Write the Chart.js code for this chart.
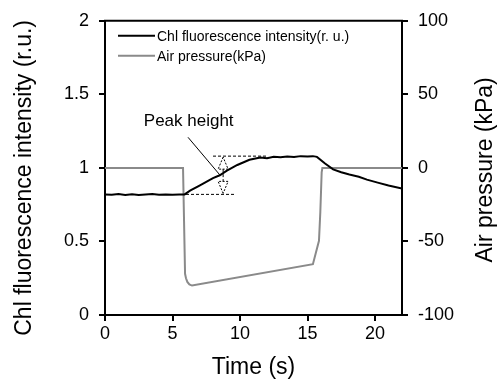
<!DOCTYPE html>
<html>
<head>
<meta charset="utf-8">
<script src="https://cdn.jsdelivr.net/npm/chart.js@4/dist/chart.umd.min.js"></script>
<style>
html,body{margin:0;padding:0;background:#fff;}
#wrap{width:499px;height:383px;position:relative;}
</style>
</head>
<body>
<div id="wrap"><canvas id="c" width="499" height="383"></canvas></div>
<script>
// ---- data ----
const chlTime   = [0, 0.5, 1, 1.5, 2, 2.5, 3, 3.5, 4, 4.5, 5, 5.5, 5.9, 6.3, 7, 7.5, 8, 8.5, 9, 9.8, 10.7, 11.5, 12, 12.5, 13, 13.5, 14, 14.5, 15, 15.4, 15.7, 16.3, 16.9, 17.5, 18.1, 18.8, 19.4, 20.2, 21, 22];
const chlValues = [0.82, 0.818, 0.822, 0.816, 0.82, 0.815, 0.819, 0.822, 0.817, 0.82, 0.818, 0.82, 0.82, 0.845, 0.88, 0.905, 0.93, 0.95, 0.98, 1.02, 1.055, 1.07, 1.065, 1.075, 1.072, 1.078, 1.074, 1.08, 1.078, 1.08, 1.075, 1.03, 0.99, 0.97, 0.955, 0.94, 0.92, 0.90, 0.88, 0.86];

const pressTime   = [0, 5.78, 5.93, 6.0, 6.1, 6.25, 6.45, 15.4, 15.85, 15.95, 16.05, 16.1, 22];
const pressValues = [0, 0, -72, -75, -77.5, -79.2, -80, -65.5, -49.6, -30, -3, 0, 0];

const seriesLabels = ['Chl fluorescence intensity(r. u.)', 'Air pressure(kPa)'];
const xTitle = 'Time (s)';
const yTitle = 'Chl fluorescence intensity (r.u.)';
const y2Title = 'Air pressure (kPa)';

// annotation (in data units: time, r.u.)
const peakLabel = 'Peak height';
const peakLabelPos = [6.2, 1.32];
const leaderLine = [[6.15, 1.208], [8.5, 0.953]];
const peakTop = 1.08, peakBase = 0.82;
const topDash = [8.0, 12.0];
const baseDash = [6.0, 9.7];
const arrowTime = 8.75;

const FONT = "'Liberation Sans', Arial, sans-serif";

const annotationPlugin = {
  id: 'annot',
  afterDatasetsDraw(chart) {
    const ctx = chart.ctx;
    const x = chart.scales.x, y = chart.scales.y;
    const ca = chart.chartArea;
    ctx.save();
    // top frame line
    ctx.strokeStyle = '#000';
    ctx.lineWidth = 2;
    ctx.beginPath();
    ctx.moveTo(ca.left - 1, ca.top);
    ctx.lineTo(ca.right + 1, ca.top);
    ctx.stroke();

    // legend
    ctx.font = '14px ' + FONT;
    ctx.textBaseline = 'middle';
    ctx.textAlign = 'left';
    chart.data.datasets.forEach((ds, i) => {
      const ly = ca.top + 15 + i * 20;
      ctx.strokeStyle = ds.borderColor;
      ctx.lineWidth = 2;
      ctx.beginPath();
      ctx.moveTo(ca.left + 13, ly);
      ctx.lineTo(ca.left + 50, ly);
      ctx.stroke();
      ctx.fillStyle = '#000';
      ctx.fillText(ds.label, ca.left + 52, ly + 1);
    });

    // peak height label
    ctx.font = '17px ' + FONT;
    ctx.textAlign = 'center';
    ctx.fillStyle = '#000';
    ctx.fillText(peakLabel, x.getPixelForValue(peakLabelPos[0]), y.getPixelForValue(peakLabelPos[1]));

    // leader line
    ctx.strokeStyle = '#000';
    ctx.lineWidth = 1;
    ctx.setLineDash([]);
    ctx.beginPath();
    ctx.moveTo(x.getPixelForValue(leaderLine[0][0]), y.getPixelForValue(leaderLine[0][1]));
    ctx.lineTo(x.getPixelForValue(leaderLine[1][0]), y.getPixelForValue(leaderLine[1][1]));
    ctx.stroke();

    // dashed guide lines
    ctx.setLineDash([3, 2]);
    ctx.beginPath();
    ctx.moveTo(x.getPixelForValue(topDash[0]), y.getPixelForValue(peakTop));
    ctx.lineTo(x.getPixelForValue(topDash[1]), y.getPixelForValue(peakTop));
    ctx.moveTo(x.getPixelForValue(baseDash[0]), y.getPixelForValue(peakBase));
    ctx.lineTo(x.getPixelForValue(baseDash[1]), y.getPixelForValue(peakBase));
    ctx.stroke();

    // double-headed dashed arrow
    const ax = x.getPixelForValue(arrowTime);
    const at = y.getPixelForValue(peakTop) + 1;
    const ab = y.getPixelForValue(peakBase) - 1;
    ctx.beginPath();
    ctx.moveTo(ax, at + 12);
    ctx.lineTo(ax, ab - 12);
    ctx.stroke();
    ctx.setLineDash([2, 1.5]);
    ctx.beginPath();
    ctx.moveTo(ax, at); ctx.lineTo(ax - 5, at + 12); ctx.lineTo(ax + 5, at + 12); ctx.closePath();
    ctx.moveTo(ax, ab); ctx.lineTo(ax - 5, ab - 12); ctx.lineTo(ax + 5, ab - 12); ctx.closePath();
    ctx.stroke();
    ctx.setLineDash([]);

    // y-axis titles (both read bottom to top)
    ctx.font = '23px ' + FONT;
    ctx.fillStyle = '#000';
    ctx.textAlign = 'center';
    ctx.textBaseline = 'middle';
    ctx.save();
    ctx.translate(25, (ca.top + ca.bottom) / 2 + 10);
    ctx.rotate(-Math.PI / 2);
    ctx.fillText(yTitle, 0, 0);
    ctx.restore();
    ctx.save();
    ctx.translate(chart.width - 13, (ca.top + ca.bottom) / 2 + 2);
    ctx.rotate(-Math.PI / 2);
    ctx.fillText(y2Title, 0, 0);
    ctx.restore();
    ctx.restore();
  }
};

const tickFont = { family: FONT, size: 18 };
const axisCommon = {
  border: { color: '#000', width: 2 },
  grid: { drawOnChartArea: false, color: '#000', tickLength: 6, lineWidth: 2, tickColor: '#000' },
};

new Chart(document.getElementById('c'), {
  type: 'line',
  data: {
    datasets: [
      {
        label: seriesLabels[0],
        data: chlTime.map((t, i) => ({ x: t, y: chlValues[i] })),
        borderColor: '#000',
        borderWidth: 2,
        pointRadius: 0,
        tension: 0,
        yAxisID: 'y'
      },
      {
        label: seriesLabels[1],
        data: pressTime.map((t, i) => ({ x: t, y: pressValues[i] })),
        borderColor: '#8a8a8a',
        borderWidth: 2,
        pointRadius: 0,
        tension: 0,
        yAxisID: 'y2'
      }
    ]
  },
  options: {
    responsive: false,
    animation: false,
    devicePixelRatio: 1,
    layout: { padding: { top: 17, left: 0, right: 0, bottom: 0 } },
    plugins: { legend: { display: false }, tooltip: { enabled: false } },
    scales: {
      x: {
        type: 'linear',
        min: 0, max: 22,
        ...axisCommon,
        ticks: { stepSize: 5, includeBounds: false, color: '#000', font: tickFont, padding: 2, maxRotation: 0 },
        title: { display: true, text: xTitle, color: '#000', font: { family: FONT, size: 23 }, padding: { top: 0, bottom: 2 } },
        afterFit(s) { s.height = 68; }
      },
      y: {
        type: 'linear',
        position: 'left',
        min: 0, max: 2,
        ...axisCommon,
        ticks: { stepSize: 0.5, color: '#000', font: tickFont, padding: 10, callback: v => String(v) },
        afterFit(s) { s.width = 105; }
      },
      y2: {
        type: 'linear',
        position: 'right',
        min: -100, max: 100,
        ...axisCommon,
        ticks: { stepSize: 50, color: '#000', font: tickFont, padding: 10, callback: v => String(v) },
        afterFit(s) { s.width = 97; }
      }
    }
  },
  plugins: [annotationPlugin]
});
</script>
</body>
</html>
